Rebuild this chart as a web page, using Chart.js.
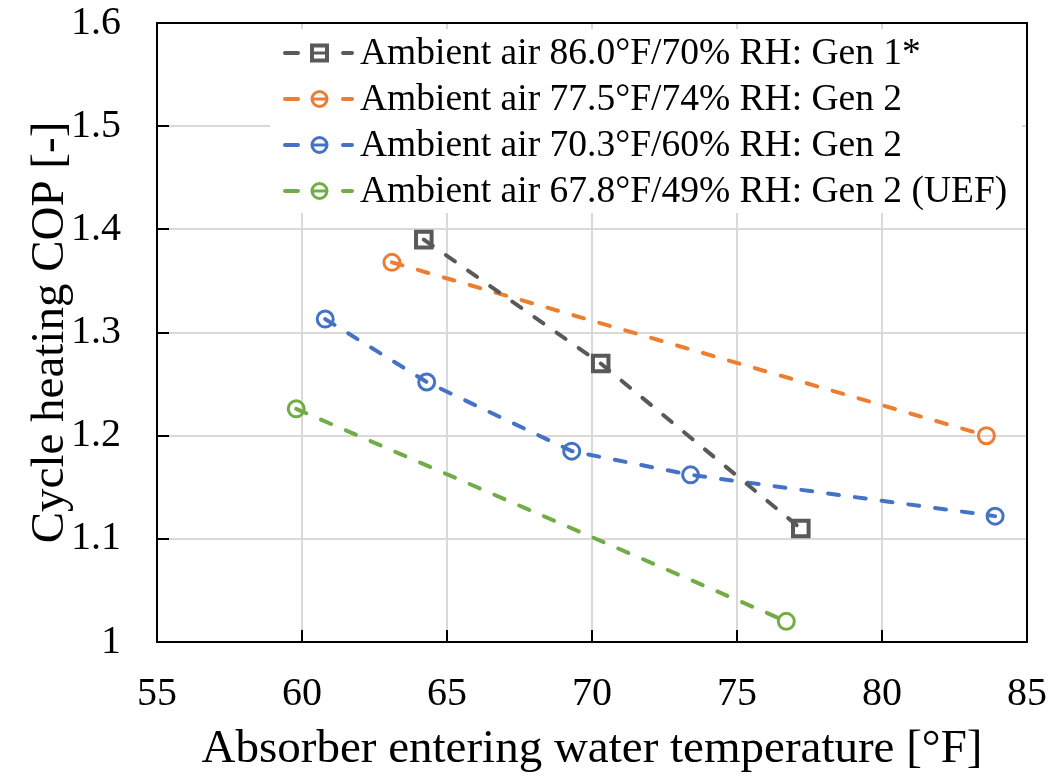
<!DOCTYPE html>
<html>
<head>
<meta charset="utf-8">
<script src="https://cdn.jsdelivr.net/npm/chart.js@4.4.0/dist/chart.umd.min.js"></script>
<style>
  html, body { margin: 0; padding: 0; background: #fff; }
  canvas { display: block; }
</style>
</head>
<body>
<canvas id="copChart" width="1050" height="778"></canvas>
<script>
// Données
const labels = [
    'Ambient air 86.0°F/70% RH: Gen 1*',
    'Ambient air 77.5°F/74% RH: Gen 2',
    'Ambient air 70.3°F/60% RH: Gen 2',
    'Ambient air 67.8°F/49% RH: Gen 2 (UEF)'
];
const gen1Temp = [64.2, 70.3, 77.2];
const gen1Cop = [1.39, 1.27, 1.11];
const amb775Temp = [63.1, 83.6];
const amb775Cop = [1.368, 1.200];
const amb703Temp = [60.8, 64.3, 69.3, 73.4, 83.9];
const amb703Cop = [1.313, 1.252, 1.185, 1.162, 1.122];
const amb678Temp = [59.8, 76.7];
const amb678Cop = [1.226, 1.020];

const xTicks = [55, 60, 65, 70, 75, 80, 85];
const yTicks = [1, 1.1, 1.2, 1.3, 1.4, 1.5, 1.6];

const colors = ['#595959', '#ED7D31', '#4472C4', '#70AD47'];
const markers = ['rect', 'circle', 'circle', 'circle'];
const serif = 'Liberation Serif';

function toPoints(xs, ys) {
    return xs.map((x, i) => ({ x: x, y: ys[i] }));
}

function makeDataset(i, xs, ys) {
    return {
        label: labels[i],
        data: toPoints(xs, ys),
        borderColor: colors[i],
        backgroundColor: 'rgba(0,0,0,0)',
        borderWidth: 4,
        borderDash: [11, 16],
        borderCapStyle: 'round',
        pointStyle: markers[i],
        pointRadius: markers[i] === 'rect' ? 11 : 8,
        pointBorderWidth: markers[i] === 'rect' ? 4 : 3,
        pointBorderColor: colors[i],
        pointBackgroundColor: 'rgba(0,0,0,0)',
        tension: 0,
        fill: false
    };
}

// pas de marge automatique autour des axes
function noPadding(s) {
    s.paddingTop = 0;
    s.paddingBottom = 0;
    s.paddingLeft = 0;
    s.paddingRight = 0;
}

// Petits traits de graduation vers l'intérieur + cadre
const framePlugin = {
    id: 'frame',
    afterDraw(chart) {
        const ctx = chart.ctx;
        const a = chart.chartArea;
        const xs = chart.scales.x;
        const ys = chart.scales.y;
        ctx.save();
        ctx.strokeStyle = '#000';
        ctx.lineWidth = 2;
        ctx.beginPath();
        xTicks.forEach(v => {
            const px = Math.round(xs.getPixelForValue(v));
            ctx.moveTo(px, a.bottom);
            ctx.lineTo(px, a.bottom - 12);
        });
        yTicks.forEach(v => {
            const py = Math.round(ys.getPixelForValue(v));
            ctx.moveTo(a.left, py);
            ctx.lineTo(a.left + 12, py);
        });
        ctx.stroke();
        ctx.strokeRect(a.left, a.top, a.right - a.left, a.bottom - a.top);
        ctx.restore();
    }
};

// Légende dessinée à la main (boîte blanche dans la zone du graphique)
const legendPlugin = {
    id: 'boxLegend',
    afterDatasetsDraw(chart) {
        const ctx = chart.ctx;
        ctx.save();
        ctx.fillStyle = '#fff';
        ctx.fillRect(270, 29, 752, 184);
        chart.data.datasets.forEach((ds, i) => {
            const y = 53 + i * 46;
            const c = ds.borderColor;
            ctx.strokeStyle = c;
            ctx.lineWidth = 4;
            ctx.lineCap = 'round';
            ctx.beginPath();
            ctx.moveTo(285, y); ctx.lineTo(298, y);
            ctx.moveTo(343, y); ctx.lineTo(352, y);
            ctx.stroke();
            // marqueur
            ctx.lineWidth = ds.pointBorderWidth;
            if (ds.pointStyle === 'rect') {
                ctx.strokeRect(312, y - 7.5, 15, 15);
            } else {
                ctx.beginPath();
                ctx.arc(319.5, y, 7.5, 0, Math.PI * 2);
                ctx.stroke();
            }
            ctx.lineWidth = 3;
            ctx.lineCap = 'butt';
            ctx.beginPath();
            ctx.moveTo(312, y); ctx.lineTo(327, y);
            ctx.stroke();
            ctx.fillStyle = '#000';
            ctx.font = '37.5px "' + serif + '"';
            ctx.textBaseline = 'middle';
            ctx.fillText(ds.label, 360, y + 1);
        });
        ctx.restore();
    }
};

const ctxx = document.getElementById('copChart');

new Chart(ctxx, {
    type: 'line',
    data: {
        datasets: [
            makeDataset(0, gen1Temp, gen1Cop),
            makeDataset(1, amb775Temp, amb775Cop),
            makeDataset(2, amb703Temp, amb703Cop),
            makeDataset(3, amb678Temp, amb678Cop)
        ]
    },
    options: {
        responsive: false,
        animation: false,
        devicePixelRatio: 1,
        layout: { autoPadding: false, padding: { top: 23, right: 23, left: 0, bottom: 0 } },
        plugins: {
            legend: { display: false },
            tooltip: { enabled: false }
        },
        scales: {
            x: {
                type: 'linear',
                min: 55,
                max: 85,
                afterBuildTicks: s => { s.ticks = xTicks.map(v => ({ value: v })); },
                afterFit: s => { s.height = 136; noPadding(s); },
                grid: { color: '#d9d9d9', lineWidth: 2, drawTicks: false },
                border: { color: '#000', width: 2 },
                ticks: {
                    color: '#000',
                    padding: 28,
                    font: { family: serif, size: 40 },
                    maxRotation: 0
                },
                title: {
                    display: true,
                    text: 'Absorber entering water temperature [°F]',
                    color: '#000',
                    font: { family: serif, size: 47 },
                    padding: { top: 0, bottom: 0 }
                }
            },
            y: {
                type: 'linear',
                min: 1,
                max: 1.6,
                afterBuildTicks: s => { s.ticks = yTicks.map(v => ({ value: v })); },
                afterFit: s => { s.width = 157; noPadding(s); },
                grid: { color: '#d9d9d9', lineWidth: 2, drawTicks: false },
                border: { color: '#000', width: 2 },
                ticks: {
                    color: '#000',
                    padding: 36,
                    font: { family: serif, size: 40 },
                    callback: v => String(Math.round(v * 10) / 10)
                },
                title: {
                    display: true,
                    text: 'Cycle heating COP [-]',
                    color: '#000',
                    font: { family: serif, size: 47 },
                    padding: { top: 22, bottom: 0 }
                }
            }
        }
    },
    plugins: [legendPlugin, framePlugin]
});
</script>
</body>
</html>
